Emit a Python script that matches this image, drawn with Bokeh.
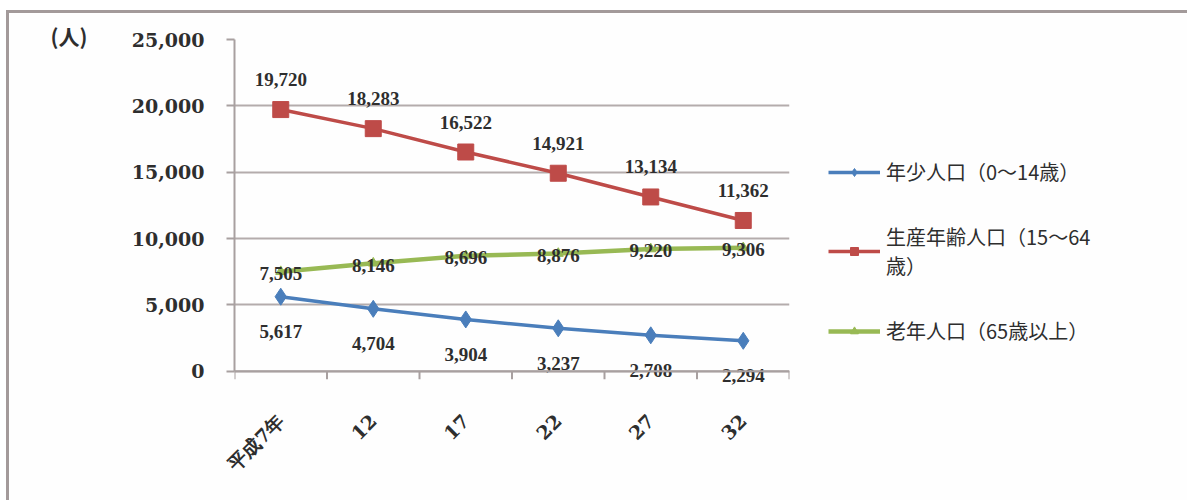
import math
from bokeh.plotting import figure
from bokeh.models import (ColumnDataSource, FixedTicker, NumeralTickFormatter, Range1d,
                          Legend, LegendItem, Title, Span)
from bokeh.embed import file_html
from bokeh.resources import INLINE

# 年次（平成）
years = ["平成7年", "12", "17", "22", "27", "32"]
# 年少人口（0～14歳）
young = [5617, 4704, 3904, 3237, 2708, 2294]
# 生産年齢人口（15～64歳）
working = [19720, 18283, 16522, 14921, 13134, 11362]
# 老年人口（65歳以上）
elderly = [7505, 8146, 8696, 8876, 9220, 9306]

series_names = ["年少人口（0～14歳）", "生産年齢人口（15～64\n歳）", "老年人口（65歳以上）"]
y_ticks = [0, 5000, 10000, 15000, 20000, 25000]
y_max = 25000
y_pad = 1300          # room below zero for the lowest value labels
tick_len = 600        # category boundary tick length, in data units

xs = [i + 0.5 for i in range(len(years))]
bounds_x = list(range(len(years) + 1))
fmt = lambda v: f"{v:,}"

src = ColumnDataSource(dict(
    x=xs, young=young, working=working, elderly=elderly,
    young_lbl=[fmt(v) for v in young],
    working_lbl=[fmt(v) for v in working],
    elderly_lbl=[fmt(v) for v in elderly],
))

SERIF = "DejaVu Serif"
CJK = "Noto Sans CJK JP"
INK = "#2e2e2e"
AXIS = "#a8a0a0"
FRAME = "#a39a9a"

p = figure(output_backend="svg", toolbar_location=None,
           frame_width=555, frame_height=349,
           x_range=Range1d(0, len(years)), y_range=Range1d(-y_pad, y_max),
           min_border_left=225, min_border_right=91, min_border_top=26, min_border_bottom=112)
p.styles = {"margin-left": "6px", "margin-top": "10px",
            "border-left": f"3px solid {FRAME}", "border-top": f"3px solid {FRAME}",
            "border-right": f"3px solid {FRAME}"}
p.background_fill_color = "#fefefe"
p.border_fill_color = "#fefefe"
p.outline_line_color = None

# y axis
p.yaxis.ticker = FixedTicker(ticks=y_ticks)
p.yaxis.bounds = (0, y_max)
p.yaxis.formatter = NumeralTickFormatter(format="0,0")
p.yaxis.major_label_text_font = SERIF
p.yaxis.major_label_text_font_style = "bold"
p.yaxis.major_label_text_font_size = "19px"
p.yaxis.major_label_text_color = INK
p.yaxis.major_label_standoff = 22
p.yaxis.major_tick_out = 8
p.yaxis.major_tick_in = 0
p.yaxis.minor_tick_line_color = None
p.yaxis.axis_line_color = AXIS
p.yaxis.axis_line_width = 2
p.yaxis.major_tick_line_color = AXIS
p.yaxis.major_tick_line_width = 2

# x axis: labels only; its baseline and boundary ticks are drawn at zero below
p.xaxis.ticker = FixedTicker(ticks=xs)
p.xaxis.major_label_overrides = {x: y for x, y in zip(xs, years)}
p.xaxis.major_label_orientation = math.pi / 4
p.xaxis.major_label_text_font = SERIF
p.xaxis.major_label_text_font_style = "bold"
p.xaxis.major_label_text_font_size = "19px"
p.xaxis.major_label_text_color = INK
p.xaxis.major_tick_line_color = None
p.xaxis.minor_tick_line_color = None
p.xaxis.axis_line_color = None
p.xaxis.major_label_standoff = 23

p.xgrid.grid_line_color = None
p.ygrid.grid_line_color = "#b4acac"
p.ygrid.grid_line_width = 2

p.add_layout(Span(location=0, dimension="width", line_color=AXIS, line_width=2))
p.segment(x0=bounds_x, x1=bounds_x, y0=[0] * len(bounds_x), y1=[-tick_len] * len(bounds_x),
          line_color=AXIS, line_width=2)

BLUE, RED, GREEN = "#4a7ebb", "#be4b48", "#98b954"

r_young_l = p.line("x", "young", source=src, line_color=BLUE, line_width=3.5)
r_young_m = p.scatter("x", "young", source=src, marker="diamond", size=17, fill_color=BLUE, line_color=BLUE)
r_work_l = p.line("x", "working", source=src, line_color=RED, line_width=3.5)
r_work_m = p.scatter("x", "working", source=src, marker="square", size=16, fill_color=RED, line_color=RED)
r_eld_l = p.line("x", "elderly", source=src, line_color=GREEN, line_width=4.5)
r_eld_m = p.scatter("x", "elderly", source=src, marker="triangle", size=10, fill_color=GREEN, line_color=GREEN)

lbl_kw = dict(source=src, text_font=SERIF, text_font_style="bold", text_font_size="19px",
              text_color=INK, text_align="center", text_baseline="middle")
p.text("x", "working", text="working_lbl", y_offset=-30, **lbl_kw)
p.text("x", "elderly", text="elderly_lbl", y_offset=2, **lbl_kw)
p.text("x", "young", text="young_lbl", y_offset=35, **lbl_kw)

# unit caption at the top left
p.add_layout(Title(text="(人)", align="left", offset=-184, standoff=-23, vertical_align="bottom",
                   text_font=CJK, text_font_style="bold", text_font_size="21px",
                   text_color=INK), "above")

legend = Legend(items=[
    LegendItem(label=series_names[0], renderers=[r_young_l, r_young_m]),
    LegendItem(label=series_names[1], renderers=[r_work_l, r_work_m]),
    LegendItem(label=series_names[2], renderers=[r_eld_l, r_eld_m]),
], location=(39, 43), orientation="vertical",
    label_text_font=CJK, label_text_font_size="20px", label_text_color=INK,
    glyph_width=52, glyph_height=20, spacing=36, label_standoff=6,
    margin=0, padding=0,
    background_fill_alpha=0, border_line_color=None)
p.add_layout(legend, "right")

open("out.html", "w").write(file_html(p, INLINE))
